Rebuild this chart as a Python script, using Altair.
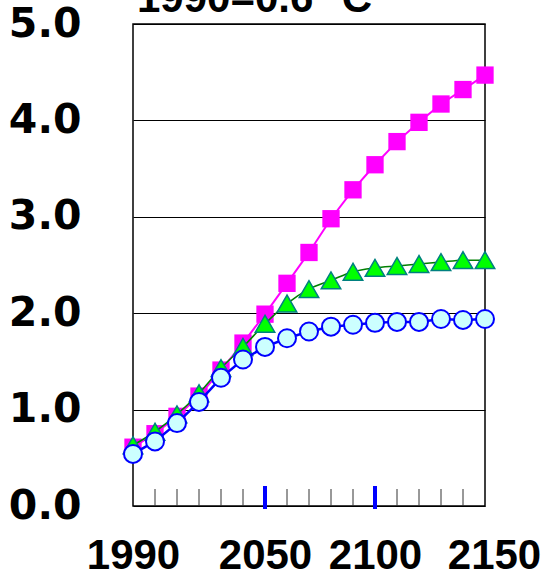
import altair as alt
import pandas as pd

years = [1990, 2000, 2010, 2020, 2030, 2040, 2050, 2060, 2070, 2080,
         2090, 2100, 2110, 2120, 2130, 2140, 2150]
pink = [0.61, 0.75, 0.93, 1.14, 1.41, 1.69, 1.99, 2.31, 2.63, 2.98,
        3.28, 3.54, 3.78, 3.98, 4.17, 4.32, 4.47]
green = [0.63, 0.77, 0.95, 1.17, 1.43, 1.65, 1.89, 2.10, 2.25, 2.34,
         2.43, 2.47, 2.49, 2.51, 2.53, 2.55, 2.55]
blue = [0.54, 0.67, 0.86, 1.08, 1.33, 1.52, 1.65, 1.74, 1.81, 1.86,
        1.88, 1.90, 1.91, 1.91, 1.94, 1.93, 1.94]

x_labels = [1990, 2050, 2100, 2150]
y_labels = [0, 1, 2, 3, 4, 5]
minor_ticks = [2000, 2010, 2020, 2030, 2040, 2050, 2060, 2070, 2080,
               2090, 2100, 2110, 2120, 2130, 2140]
major_ticks = [2050, 2100]
title_text = "1990=0.6 °C"

FONT = "Liberation Sans"
YFONT = "DejaVu Sans"

df_p = pd.DataFrame({"year": years, "v": pink})
df_g = pd.DataFrame({"year": years, "v": green})
df_b = pd.DataFrame({"year": years, "v": blue})

xscale = alt.Scale(domain=[1990, 2150], nice=False, zero=False)
yscale = alt.Scale(domain=[0, 5], nice=False)

xenc = alt.X("year:Q", scale=xscale, axis=alt.Axis(
    values=x_labels, format="d", title=None, ticks=False, domain=False, grid=False,
    labelFont=FONT, labelFontSize=42, labelFontWeight="bold", labelColor="black",
    labelPadding=29, labelFlush=False,
    labelOffset={"condition": {"test": "datum.value == 2150", "value": 9}, "value": 0},
))
yenc = alt.Y("v:Q", scale=yscale, axis=alt.Axis(
    values=y_labels, format=".1f", title=None, ticks=False, domain=False,
    grid=True, gridColor="black", gridWidth=1, gridOpacity=1,
    labelFont=YFONT, labelFontSize=41, labelFontWeight="bold", labelColor="black",
    labelPadding=52,
))

xq = alt.X("year:Q", scale=xscale)
yq = alt.Y("v:Q", scale=yscale)

base_axes = alt.Chart(df_p).mark_point(opacity=0).encode(x=xenc, y=yenc)

minor = alt.Chart(pd.DataFrame({"year": minor_ticks})).mark_rule(
    color="#333333", strokeWidth=1
).encode(x=xq, y=alt.value(482), y2=alt.value(465))
major = alt.Chart(pd.DataFrame({"year": major_ticks})).mark_rule(
    color="#0000ff", strokeWidth=4
).encode(x=xq, y=alt.value(485), y2=alt.value(462))

p_line = alt.Chart(df_p).mark_line(color="#ff00ff", strokeWidth=2).encode(x=xq, y=yq)
p_pts = alt.Chart(df_p).mark_point(shape="square", size=300, filled=True,
                                   color="#ff00ff", opacity=1).encode(x=xq, y=yq)
g_line = alt.Chart(df_g).mark_line(color="#008000", strokeWidth=1.6,
                                   interpolate="monotone").encode(x=xq, y=yq)
g_pts = alt.Chart(df_g).mark_point(shape="triangle-up", size=380, filled=True,
                                   fill="#00ff00", stroke="#008080", strokeWidth=1.5,
                                   opacity=1).encode(x=xq, y=yq)
b_line = alt.Chart(df_b).mark_line(color="#0000ff", strokeWidth=2.5).encode(x=xq, y=yq)
b_pts = alt.Chart(df_b).mark_point(shape="circle", size=324, filled=True,
                                   fill="#ccffff", stroke="#0000ff", strokeWidth=2,
                                   opacity=1).encode(x=xq, y=yq)

title = alt.Chart(pd.DataFrame({"t": [title_text]})).mark_text(
    align="left", baseline="alphabetic", font=FONT, fontSize=42,
    fontWeight="bold", color="black"
).encode(text="t:N", x=alt.value(4), y=alt.value(-12))

chart = alt.layer(
    base_axes, minor, major, p_line, p_pts, g_line, g_pts, b_line, b_pts, title
).properties(
    width=352, height=482,
    autosize=alt.AutoSizeParams(type="none"),
    padding={"left": 133, "top": 24, "right": 64, "bottom": 71},
).configure(
    background="white",
    view=alt.ViewConfig(stroke="black", strokeWidth=1.5),
)

chart.save("out.html", embed_options={"renderer": "svg", "actions": False})
